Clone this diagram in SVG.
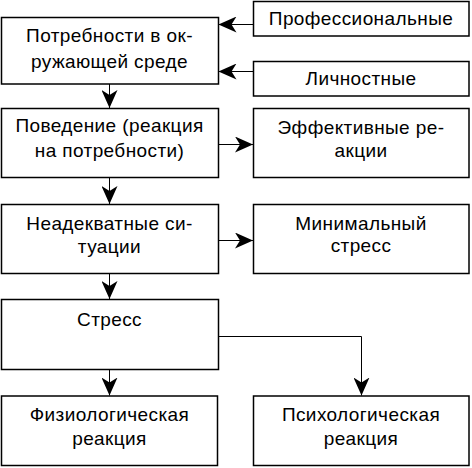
<svg xmlns="http://www.w3.org/2000/svg" width="472" height="468" viewBox="0 0 472 468">
<defs>
<marker id="ah" viewBox="0 0 18 16" refX="18" refY="8" markerWidth="18" markerHeight="16" markerUnits="userSpaceOnUse" orient="auto">
<path d="M0,0 L18,8 L0,16 L5,8 Z" fill="#000"/>
</marker>
</defs>
<style>
rect{fill:#fff;stroke:#000;stroke-width:1.5}
text{font-family:"Liberation Sans",Arial,sans-serif;font-size:19px;fill:#000;text-anchor:middle;letter-spacing:0.4px}
.c line,.c path{stroke:#000;stroke-width:1;fill:none;marker-end:url(#ah)}
</style>
<rect x="0" y="0" width="472" height="468" style="stroke:none"/>
<g id="n-prof"><rect x="253.5" y="1.5" width="215.5" height="34.5"/><text x="361" y="25">Профессиональные</text></g>
<g id="n-lich"><rect x="253.5" y="61.5" width="215.5" height="34.5"/><text x="361" y="85">Личностные</text></g>
<g id="n-potr"><rect x="1.5" y="17.5" width="217" height="66.5"/><text x="109.5" y="42">Потребности в ок-</text><text x="109.5" y="68">ружающей среде</text></g>
<g id="n-pov"><rect x="1.5" y="108.5" width="217" height="69"/><text x="109.5" y="132">Поведение (реакция</text><text x="109.5" y="157">на потребности)</text></g>
<g id="n-eff"><rect x="253.5" y="108.5" width="215.5" height="69"/><text x="361" y="134">Эффективные ре-</text><text x="361" y="157">акции</text></g>
<g id="n-nead"><rect x="1.5" y="204.5" width="217" height="69"/><text x="109.5" y="230">Неадекватные си-</text><text x="109.5" y="253">туации</text></g>
<g id="n-min"><rect x="253.5" y="204.5" width="215.5" height="69"/><text x="361" y="230">Минимальный</text><text x="361" y="252">стресс</text></g>
<g id="n-stress"><rect x="1.5" y="299.5" width="217" height="70"/><text x="109.5" y="326">Стресс</text></g>
<g id="n-fiz"><rect x="1.5" y="396" width="216" height="69.5"/><text x="109.5" y="421">Физиологическая</text><text x="109.5" y="445">реакция</text></g>
<g id="n-psy"><rect x="253.5" y="396" width="215.5" height="69.5"/><text x="361" y="421">Психологическая</text><text x="361" y="445">реакция</text></g>
<g id="connectors" class="c">
<line x1="253" y1="24.5" x2="218.5" y2="24.5"/>
<line x1="253" y1="71.5" x2="218.5" y2="71.5"/>
<line x1="109.5" y1="84" x2="109.5" y2="108"/>
<line x1="218.5" y1="144.5" x2="253" y2="144.5"/>
<line x1="109.5" y1="178" x2="109.5" y2="204"/>
<line x1="218.5" y1="240.5" x2="253" y2="240.5"/>
<line x1="109.5" y1="274" x2="109.5" y2="299"/>
<line x1="109.5" y1="370" x2="109.5" y2="395.5"/>
<path d="M218.5,336.5 H361.5 V395.5"/>
</g>
</svg>
